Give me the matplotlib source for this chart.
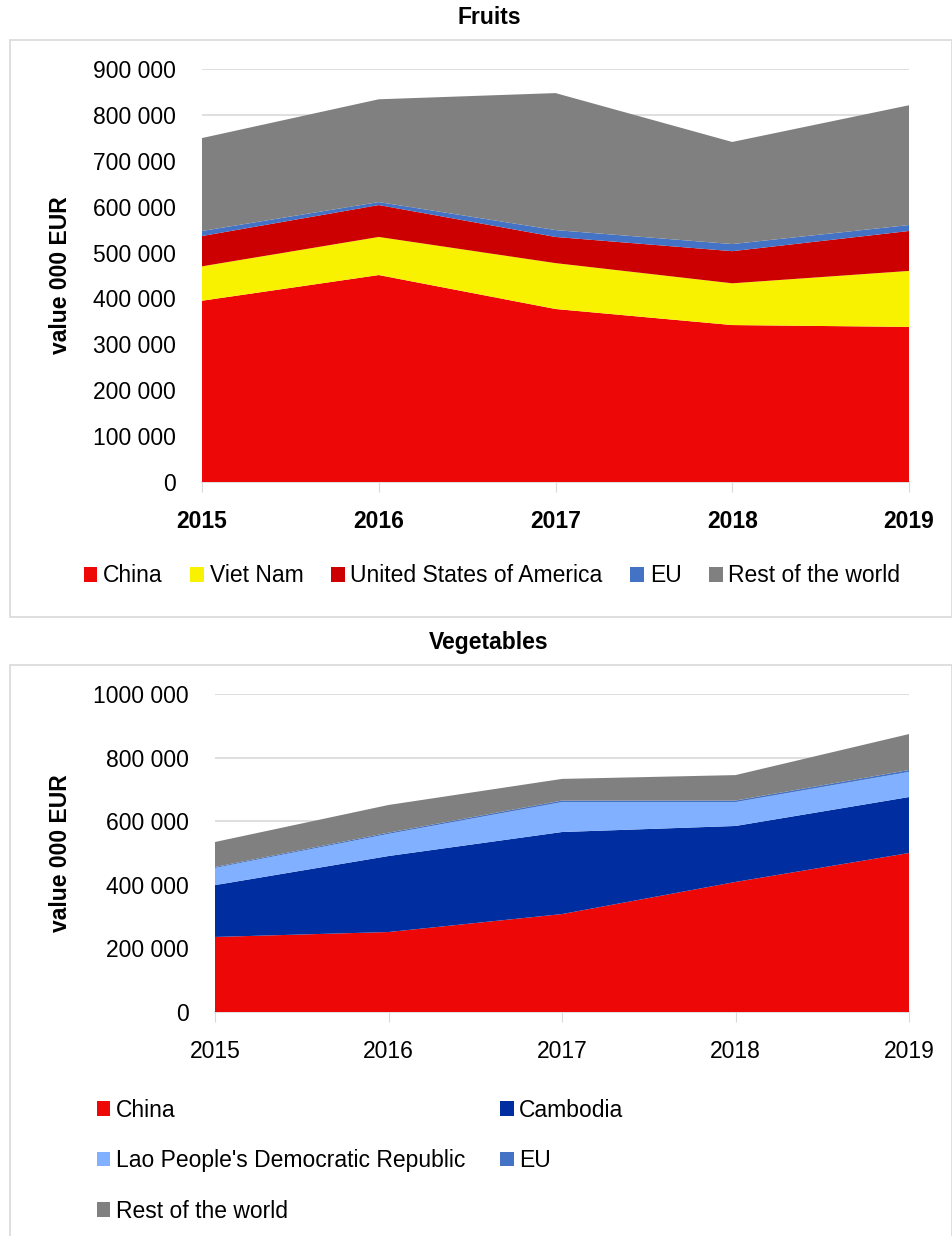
import numpy as np
import matplotlib.pyplot as plt
from matplotlib.patches import Rectangle, Patch
from matplotlib import font_manager

names = {f.name for f in font_manager.fontManager.ttflist}
base = 'Liberation Sans Narrow' if 'Liberation Sans Narrow' in names else 'Liberation Sans'
plt.rcParams['font.family'] = [base, 'DejaVu Sans']

years = [2015, 2016, 2017, 2018, 2019]

# Fruits (000 EUR)
fruit_names = ['China', 'Viet Nam', 'United States of America', 'EU', 'Rest of the world']
fruit_china = [395000, 451000, 377000, 342000, 338000]
fruit_vietnam = [75000, 83000, 100000, 91000, 122000]
fruit_usa = [66000, 69500, 57000, 70000, 87000]
fruit_eu = [11000, 6500, 15000, 15500, 13000]
fruit_rest = [202500, 224000, 298500, 222500, 261000]
fruit_colors = ['#EE0707', '#F8F200', '#CC0000', '#4472C4', '#808080']
fruit_yticks = [0, 100000, 200000, 300000, 400000, 500000, 600000, 700000, 800000, 900000]
fruit_ylabels = ['0', '100 000', '200 000', '300 000', '400 000', '500 000',
                 '600 000', '700 000', '800 000', '900 000']

# Vegetables (000 EUR)
veg_names = ['China', 'Cambodia', "Lao People's Democratic Republic", 'EU', 'Rest of the world']
veg_china = [236000, 251500, 308000, 409000, 500000]
veg_cambodia = [163000, 239000, 258000, 176000, 176000]
veg_lao = [54000, 69500, 94000, 75000, 79000]
veg_eu = [3000, 4000, 5000, 5000, 6000]
veg_rest = [78600, 87000, 68000, 80000, 113000]
veg_colors = ['#EE0707', '#002EA0', '#80B0FF', '#4472C4', '#808080']
veg_yticks = [0, 200000, 400000, 600000, 800000, 1000000]
veg_ylabels = ['0', '200 000', '400 000', '600 000', '800 000', '1000 000']

W, H = 953, 1236
FS = 16.5
fig = plt.figure(figsize=(W / 100, H / 100), dpi=100)


def px_axes(x0, y0, x1, y1):
    return fig.add_axes([x0 / W, 1 - y1 / H, (x1 - x0) / W, (y1 - y0) / H])


def frame(x0, y0, x1, y1):
    fig.patches.append(Rectangle((x0 / W, 1 - y1 / H), (x1 - x0) / W, (y1 - y0) / H,
                                 transform=fig.transFigure, fill=False,
                                 edgecolor='#D9D9D9', lw=1.2))


def style(ax, yticks, ylabels, ymax, bold_x):
    ax.set_xlim(years[0], years[-1])
    ax.set_ylim(0, ymax)
    ax.set_xticks(years)
    ax.set_xticklabels([str(y) for y in years], fontsize=FS,
                       fontweight='bold' if bold_x else 'normal')
    ax.set_yticks(yticks)
    ax.set_yticklabels(ylabels, fontsize=FS)
    ax.tick_params(axis='y', length=0, pad=19)
    ax.tick_params(axis='x', length=7, color='#D9D9D9', pad=13, direction='out')
    ax.grid(axis='y', color='#D9D9D9', lw=1.2)
    ax.set_axisbelow(True)
    for s in ['top', 'right', 'left']:
        ax.spines[s].set_visible(False)
    ax.spines['bottom'].set_color('#D9D9D9')
    ax.spines['bottom'].set_linewidth(1.2)
    ax.set_ylabel('value 000 EUR', fontsize=FS, fontweight='bold')


# Fruits panel
frame(10, 40, 952, 617)
fig.text(489 / W, 1 - 18 / H, 'Fruits', ha='center', va='center', fontsize=FS, fontweight='bold')
ax1 = px_axes(202, 69, 909, 482)
ax1.stackplot(years, fruit_china, fruit_vietnam, fruit_usa, fruit_eu, fruit_rest,
              colors=fruit_colors, lw=0, zorder=3)
style(ax1, fruit_yticks, fruit_ylabels, 900000, True)
ax1.yaxis.set_label_coords(-(202 - 72) / 707, 0.5)
h1 = [Patch(facecolor=c) for c in fruit_colors]
fig.legend(h1, fruit_names, loc='center', bbox_to_anchor=(492 / W, 1 - 576 / H),
           ncol=5, frameon=False, fontsize=FS, handlelength=0.6, handleheight=0.6,
           handletextpad=0.25, columnspacing=1.2)

# Vegetables panel
frame(10, 665, 952, 1250)
fig.text(489 / W, 1 - 643 / H, 'Vegetables', ha='center', va='center', fontsize=FS, fontweight='bold')
ax2 = px_axes(215, 694, 909, 1012)
ax2.stackplot(years, veg_china, veg_cambodia, veg_lao, veg_eu, veg_rest,
              colors=veg_colors, lw=0, zorder=3)
style(ax2, veg_yticks, veg_ylabels, 1000000, False)
ax2.yaxis.set_label_coords(-(215 - 72) / 694, 0.5)
# row-wise order in a 2-column legend
order = [0, 2, 4, 1, 3]
h2 = [Patch(facecolor=veg_colors[i]) for i in order]
fig.legend(h2, [veg_names[i] for i in order], loc='upper left',
           bbox_to_anchor=(76 / W, 1 - 1078 / H),
           ncol=2, frameon=False, fontsize=FS, handlelength=0.6, handleheight=0.6,
           handletextpad=0.25, columnspacing=1.5, labelspacing=1.2)

fig.savefig('out.png', dpi=100)
